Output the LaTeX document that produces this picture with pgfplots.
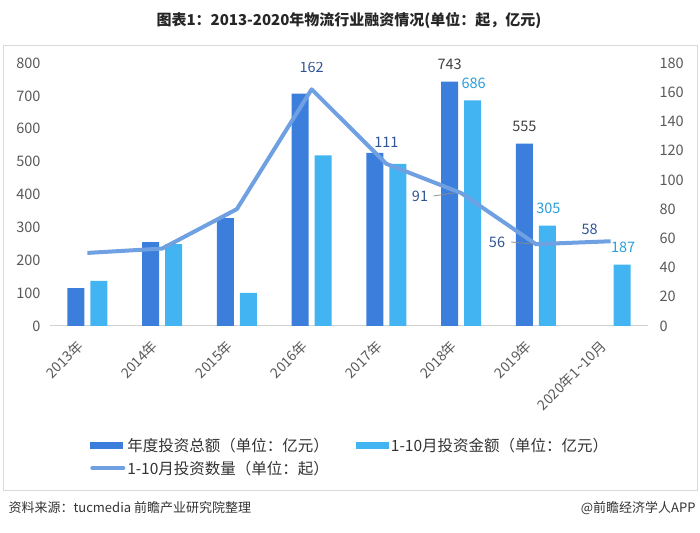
\documentclass[border=0pt]{standalone}
\usepackage{fontspec}
\setmainfont{Noto Sans CJK SC}
\usepackage{pgfplots}
\pgfplotsset{compat=1.18}

\definecolor{darkbar}{HTML}{3B7EDC}
\definecolor{lightbar}{HTML}{42B4F2}
\definecolor{countline}{HTML}{6FA0E1}
\definecolor{countlab}{HTML}{2F5597}
\definecolor{lightlab}{HTML}{2A9FDA}
\definecolor{ticktext}{HTML}{595959}
\definecolor{framegray}{HTML}{D9D9D9}

\pgfplotsset{
  chart/.style={
    scale only axis, width=598pt, height=263pt,
    at={(50pt,206pt)}, anchor=south west,
    xmin=-0.5, xmax=7.5,
    major tick length=0pt,
    /pgf/number format/assume math mode=true,
    tick label style={font=\fontsize{14.5}{16}\selectfont, text=ticktext},
  }
}

\begin{document}
\begin{tikzpicture}[x=1pt,y=1pt]
\path (0,0) rectangle (700,532);
\draw[framegray] (3,42) rectangle (697,487);
\node[font=\bfseries\fontsize{15}{18}\selectfont, text=black!85] at (349,512)
  {图表1：2013-2020年物流行业融资情况(单位：起，亿元)};
\node[anchor=west, font=\fontsize{13}{15}\selectfont, text=black!80] at (5,24)
  {资料来源：tucmedia 前瞻产业研究院整理};
\node[anchor=east, font=\fontsize{13}{15}\selectfont, text=black!80] at (699,24)
  {@前瞻经济学人APP};

% amounts, left axis
\begin{axis}[chart,
  ymin=0, ymax=800, ytick={0,100,...,800},
  axis x line*=bottom, axis y line*=left,
  x axis line style={draw=black!18, line width=1pt, -},
  y axis line style={draw=none},
  xtick={0,...,7},
  xticklabels={2013年,2014年,2015年,2016年,2017年,2018年,2019年,2020年1{\char"007E}10月},
  x tick label style={font=\fontsize{14}{16}\selectfont, rotate=45, anchor=east, xshift=-13.8pt, yshift=-7.4pt},
  y tick label style={xshift=-6pt},
  legend columns=2,
  legend cell align=left,
  legend style={at={(axis description cs:0.067,-0.418)}, anchor=north west,
    draw=none, fill=none, inner sep=0pt,
    font=\fontsize{15.5}{18}\selectfont, text=black!80,
    nodes={inner sep=2pt},
    /tikz/every even column/.append style={column sep=25pt},
    row sep=4pt},
]
\addplot[ybar, bar width=17pt, bar shift=-11.5pt, fill=darkbar, draw=none,
  point meta=explicit symbolic, nodes near coords,
  nodes near coords style={text=black!75, font=\fontsize{14.5}{16}\selectfont, anchor=center, xshift=-11.5pt, yshift=17pt},
  legend image code/.code={\fill[darkbar] (0pt,-3.5pt) rectangle (33pt,3.5pt);}]
  coordinates {(0,115)[] (1,255)[] (2,328)[] (3,707)[] (4,527)[] (5,743)[743] (6,555)[555]};
\addlegendentry{年度投资总额（单位：亿元）}
\addplot[ybar, bar width=17pt, bar shift=11.5pt, fill=lightbar, draw=none,
  point meta=explicit symbolic, nodes near coords,
  nodes near coords style={text=lightlab, font=\fontsize{14.5}{16}\selectfont, anchor=center, xshift=12.5pt, yshift=17pt},
  legend image code/.code={\fill[lightbar] (0pt,-3.5pt) rectangle (33pt,3.5pt);}]
  coordinates {(0,137)[] (1,249)[] (2,101)[] (3,519)[] (4,493)[] (5,686)[686] (6,305)[305] (7,187)[187]};
\addlegendentry{1-10月投资金额（单位：亿元）}
\addlegendimage{countline, line width=4pt, line cap=round,
  legend image code/.code={\draw[countline, line width=4pt, line cap=round] (2pt,0pt) -- (33pt,0pt);}}
\addlegendentry{1-10月投资数量（单位：起）}
\end{axis}

% deal counts, right axis
\begin{axis}[chart,
  ymin=0, ymax=180, ytick={0,20,...,180},
  axis y line*=right, axis x line=none,
  y axis line style={draw=none},
  y tick label style={xshift=8pt},
]
\addplot[countline, line width=4pt, line join=round, mark=none]
  coordinates {(0,50) (1,53) (2,80) (3,162) (4,111) (5,91) (6,56) (7,58)};
\draw[black!45, line width=0.8pt] (axis cs:4.63,89) -- (axis cs:4.93,91.2);
\draw[black!45, line width=0.8pt] (axis cs:5.67,57.5) -- (axis cs:5.96,56.1);
\begin{scope}[every node/.style={text=countlab, font=\fontsize{14.5}{16}\selectfont}]
\node at (axis cs:3,177) {162};
\node at (axis cs:4,126) {111};
\node at (axis cs:4.45,88.5) {91};
\node at (axis cs:5.48,57.5) {56};
\node at (axis cs:6.72,66.4) {58};
\end{scope}
\end{axis}
\end{tikzpicture}
\end{document}
